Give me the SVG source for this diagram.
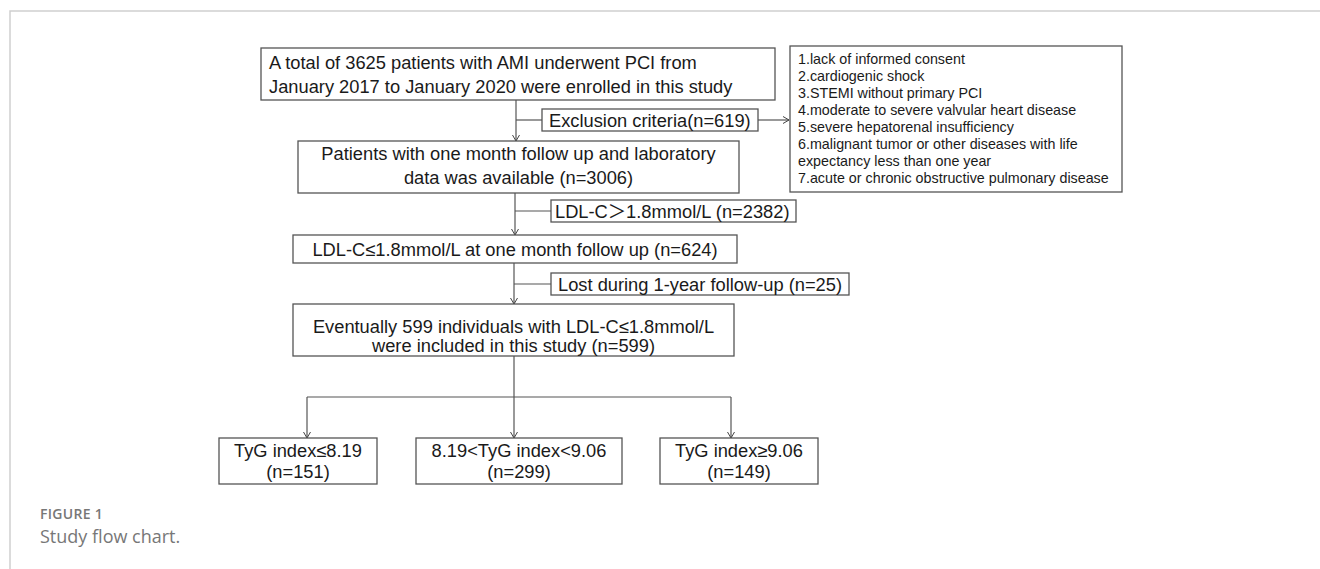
<svg xmlns="http://www.w3.org/2000/svg" width="1320" height="569" viewBox="0 0 1320 569">
<defs>
<marker id="arr" markerWidth="10" markerHeight="10" refX="8" refY="5" orient="auto" markerUnits="userSpaceOnUse">
<polyline points="2,1.5 8,5 2,8.5" fill="none" stroke="#444" stroke-width="1"/>
</marker>
<style>
.box{fill:#fff;stroke:#555;stroke-width:1.3}
.t{font-family:"Liberation Sans",Arial,sans-serif;fill:#1a1a1a;font-size:18.3px}
.s{font-family:"Liberation Sans",Arial,sans-serif;fill:#1a1a1a;font-size:14.3px}
.c{text-anchor:middle}
.con{fill:none;stroke:#555;stroke-width:1.2}
.cap{font-family:"Open Sans","Noto Sans",sans-serif;fill:#777}
</style>
</defs>
<rect width="1320" height="569" fill="#fff"/>
<path d="M10,569 V11 H1320" fill="none" stroke="#cfcfcf" stroke-width="1.5"/>

<g id="connectors">
<line class="con" x1="516" y1="100" x2="516" y2="141" marker-end="url(#arr)"/>
<line class="con" x1="516" y1="120" x2="542" y2="120"/>
<line class="con" x1="758" y1="120" x2="789" y2="120" marker-end="url(#arr)"/>
<line class="con" x1="515" y1="193" x2="515" y2="235" marker-end="url(#arr)"/>
<line class="con" x1="515" y1="211" x2="551" y2="211"/>
<line class="con" x1="514" y1="263" x2="514" y2="304" marker-end="url(#arr)"/>
<line class="con" x1="514" y1="284" x2="551" y2="284"/>
<line class="con" x1="514" y1="356" x2="514" y2="397"/>
<line class="con" x1="307" y1="397" x2="731" y2="397"/>
<line class="con" x1="307" y1="397" x2="307" y2="438" marker-end="url(#arr)"/>
<line class="con" x1="514" y1="397" x2="514" y2="438" marker-end="url(#arr)"/>
<line class="con" x1="731" y1="397" x2="731" y2="438" marker-end="url(#arr)"/>
</g>

<g id="n-total">
<rect class="box" x="261" y="48" width="514" height="52"/>
<text class="t" x="269" y="69">A total of 3625 patients with AMI underwent PCI from</text>
<text class="t" x="269" y="92.5">January 2017 to January 2020 were enrolled in this study</text>
</g>

<g id="n-exclusion">
<rect class="box" x="542" y="109" width="216" height="22"/>
<text class="t" x="549" y="126.5">Exclusion criteria(n=619)</text>
</g>

<g id="n-criteria">
<rect class="box" x="790" y="46" width="332" height="146"/>
<text class="s" x="798" y="64">1.lack of informed consent</text>
<text class="s" x="798" y="81">2.cardiogenic shock</text>
<text class="s" x="798" y="98">3.STEMI without primary PCI</text>
<text class="s" x="798" y="115">4.moderate to severe valvular heart disease</text>
<text class="s" x="798" y="132">5.severe hepatorenal insufficiency</text>
<text class="s" x="798" y="149">6.malignant tumor or other diseases with life</text>
<text class="s" x="798" y="166">expectancy less than one year</text>
<text class="s" x="798" y="183">7.acute or chronic obstructive pulmonary disease</text>
</g>

<g id="n-followup">
<rect class="box" x="298" y="141" width="441" height="52"/>
<text class="t c" x="518.5" y="160">Patients with one month follow up and laboratory</text>
<text class="t c" x="518.5" y="183.5">data was available (n=3006)</text>
</g>

<g id="n-ldl-high">
<rect class="box" x="551" y="200" width="245" height="22"/>
<text class="t" x="555" y="217.5">LDL-C<tspan font-family="'Noto Sans CJK SC',sans-serif">＞</tspan>1.8mmol/L (n=2382)</text>
</g>

<g id="n-ldl-low">
<rect class="box" x="293" y="235" width="444" height="28"/>
<text class="t c" x="515" y="256">LDL-C≤1.8mmol/L at one month follow up (n=624)</text>
</g>

<g id="n-lost">
<rect class="box" x="551" y="273" width="298" height="22"/>
<text class="t" x="558" y="290.5">Lost during 1-year follow-up (n=25)</text>
</g>

<g id="n-final">
<rect class="box" x="293" y="304" width="441" height="52"/>
<text class="t c" x="513.5" y="332.5">Eventually 599 individuals with LDL-C≤1.8mmol/L</text>
<text class="t c" x="513.5" y="352">were included in this study (n=599)</text>
</g>

<g id="n-tyg-low">
<rect class="box" x="219" y="438" width="158" height="46"/>
<text class="t c" x="298" y="457">TyG index≤8.19</text>
<text class="t c" x="298" y="478">(n=151)</text>
</g>

<g id="n-tyg-mid">
<rect class="box" x="416" y="438" width="206" height="46"/>
<text class="t c" x="519" y="457">8.19&lt;TyG index&lt;9.06</text>
<text class="t c" x="519" y="478">(n=299)</text>
</g>

<g id="n-tyg-high">
<rect class="box" x="660" y="438" width="158" height="46"/>
<text class="t c" x="739" y="457">TyG index≥9.06</text>
<text class="t c" x="739" y="478">(n=149)</text>
</g>

<g id="caption">
<text class="cap" x="40" y="519" font-size="14" font-weight="600" letter-spacing="0.3">FIGURE 1</text>
<text class="cap" x="40" y="543" font-size="18">Study flow chart.</text>
</g>
</svg>
